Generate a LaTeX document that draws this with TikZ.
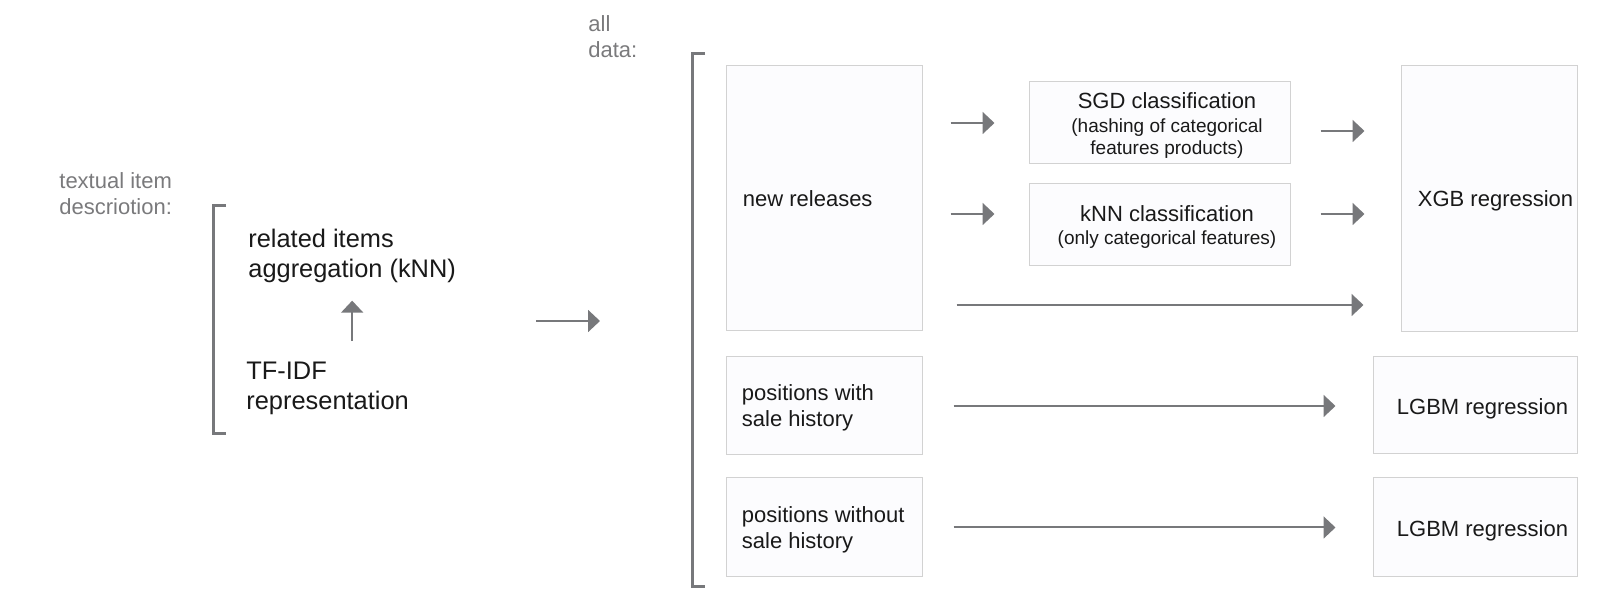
\documentclass[tikz,border=0pt]{standalone}
\usepackage{fontspec}
\setmainfont{Liberation Sans}
\usepackage{tikz}
\usetikzlibrary{arrows.meta,positioning}
\definecolor{flowgray}{HTML}{77787B}
\definecolor{notegray}{HTML}{7A7A7C}
\definecolor{boxedge}{HTML}{D2D2D2}
\definecolor{boxfill}{HTML}{FCFCFE}
\newcommand{\fbase}{\fontsize{11pt}{13pt}\selectfont}
\newcommand{\fsmall}{\fontsize{9.5pt}{10.5pt}\selectfont}
\newcommand{\flarge}{\fontsize{12.7pt}{15pt}\selectfont}

\begin{document}
\begin{tikzpicture}[x=0.5pt, y=-0.5pt,
  box/.style={draw=boxedge, fill=boxfill, line width=0.5pt, inner sep=0pt},
  txt/.style={font=\fbase, text=black!90, inner sep=0pt, align=left},
  note/.style={font=\fbase, text=notegray, inner sep=0pt, align=left},
  arr/.style={draw=flowgray, line width=1pt, -{Triangle[length=6pt,width=11pt]}},
  brk/.style={draw=flowgray, line width=1.5pt}]
  \useasboundingbox (0,0) rectangle (1614,614);
  % textual description
  \node[note, anchor=base west] (desc) at (59,215) {textual item\\descriotion:};
  \draw[brk] (226,206) -- (213,206) -- (213,434) -- (226,434);
  \node[txt, font=\flarge, anchor=base west] (rel) at (248,278) {related items\\aggregation (kNN)};
  \node[txt, font=\flarge, anchor=base west] (tfidf) at (246,410) {TF-IDF\\representation};
  \draw[arr, shorten <=10.5pt, shorten >=8.5pt] (rel.south |- tfidf.north) -- (rel.south);
  \coordinate (lgrp) at (536,321);
  \coordinate (rgrp) at (600,321);
  \draw[arr] (lgrp) -- (rgrp);
  % all data
  \node[note, anchor=base west] (alld) at (588,58) {all\\data:};
  \draw[brk] (705,54) -- (692,54) -- (692,587) -- (705,587);
  \node[box, minimum width=98pt, minimum height=132.5pt] (nr) at (824,198.5) {};
  \node[box, minimum width=98pt, minimum height=49pt] (pw) at (824,406) {};
  \node[box, minimum width=98pt, minimum height=49.5pt] (pwo) at (824,527.5) {};
  \node[txt, right=8.5pt of nr.west] (nrt) {new releases};
  \node[txt, right=8pt of pw.west, yshift=-1pt] (pwt) {positions with\\sale history};
  \node[txt, right=8pt of pwo.west, yshift=-1pt] (pwot) {positions without\\sale history};
  % classifiers
  \node[box, minimum width=130.5pt, minimum height=41pt] (sgd) at (1159.5,123) {};
  \node[box, minimum width=130.5pt, minimum height=41pt] (knn) at (1159.5,225) {};
  \node[txt, align=center] (sgdt) at ([xshift=3.75pt, yshift=-1.25pt]sgd.center) {SGD classification\\[-1pt]\fsmall (hashing of categorical\\[-2.25pt]\fsmall features products)};
  \node[txt, align=center] (knnt) at ([xshift=3.75pt, yshift=-1.25pt]knn.center) {kNN classification\\[-1.5pt]\fsmall (only categorical features)};
  % regressions
  \node[box, minimum width=88pt, minimum height=133pt] (xgb) at (1489,199) {};
  \node[box, minimum width=102pt, minimum height=48.5pt] (lg1) at (1475,405.5) {};
  \node[box, minimum width=102pt, minimum height=49.5pt] (lg2) at (1475,527.5) {};
  \node[txt, anchor=base west] (xgbt) at ([xshift=8.5pt, yshift=-4pt]xgb.west) {XGB regression};
  \node[txt, anchor=base west] (lg1t) at ([xshift=12pt, yshift=-4.5pt]lg1.west) {LGBM regression};
  \node[txt, anchor=base west] (lg2t) at ([xshift=12pt, yshift=-4.5pt]lg2.west) {LGBM regression};
  % connectors
  \coordinate (knnin) at ([yshift=5.5pt]knn.west);
  \coordinate (sgdout) at ([yshift=-4pt]sgd.east);
  \coordinate (knnout) at ([yshift=5.5pt]knn.east);
  \draw[arr, shorten <=14pt, shorten >=17pt] (nr.east |- sgd.west) -- (sgd.west);
  \draw[arr, shorten <=14pt, shorten >=17pt] (nr.east |- knnin) -- (knnin);
  \draw[arr, shorten <=15pt, shorten >=18pt] (sgdout) -- (xgb.west |- sgdout);
  \draw[arr, shorten <=15pt, shorten >=18pt] (knnout) -- (xgb.west |- knnout);
  \draw[arr, shorten <=17pt, shorten >=18.5pt] (nr.east |- 0,305) -- (xgb.west |- 0,305);
  \draw[arr, shorten <=15.5pt, shorten >=18.5pt] (pw.east) -- (pw.east -| lg1.west);
  \draw[arr, shorten <=15.5pt, shorten >=18.5pt] (pwo.east) -- (pwo.east -| lg2.west);
\end{tikzpicture}
\end{document}
